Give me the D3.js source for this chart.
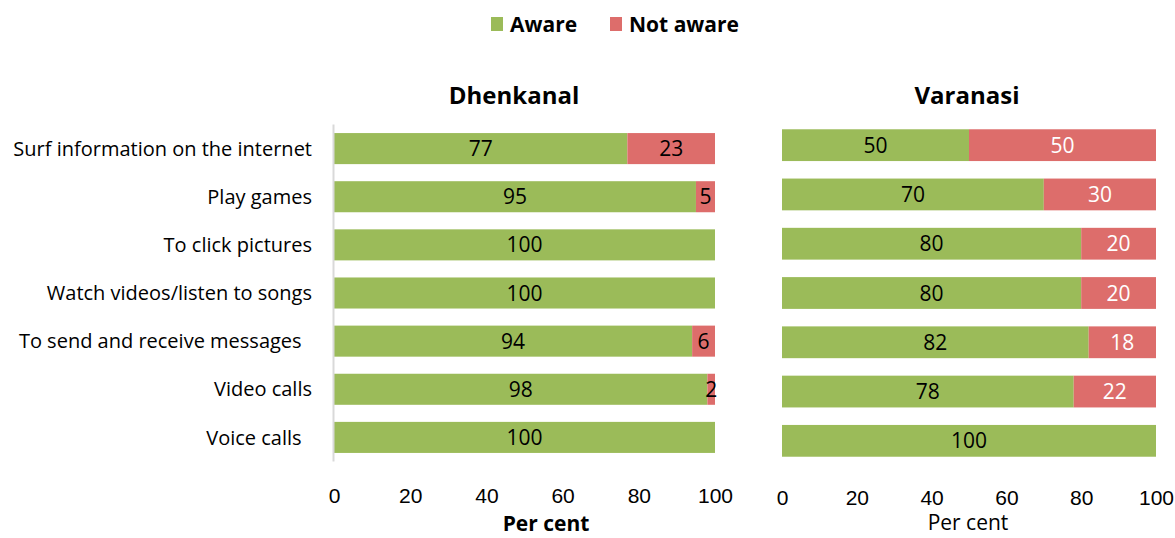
<!DOCTYPE html>
<html lang="en">
<head>
    <meta charset="UTF-8">
    <title>Awareness of mobile phone uses</title>
    <script src="https://d3js.org/d3.v7.min.js"></script>
    <style>
        body { margin: 0; background: #fff; }
        svg { font-family: "Open Sans", "Noto Sans", sans-serif; }
        .cat { font-size: 20px; fill: #000; white-space: pre; }
        .val { font-size: 21px; }
        .tick text { font-size: 21px; fill: #000; }
        .title { font-size: 24px; font-weight: bold; text-anchor: middle; }
        .legend text { font-size: 21px; font-weight: bold; }
    </style>
</head>
<body>
<svg id="chart" width="1175" height="538"></svg>
<script>
    var categories = ["Surf information on the internet", "Play games", "To click pictures",
        "Watch videos/listen to songs", "To send and receive messages  ", "Video calls", "Voice calls  "];
    var dhenkanalAware = [77, 95, 100, 100, 94, 98, 100];
    var dhenkanalNotAware = [23, 5, 0, 0, 6, 2, 0];
    var varanasiAware = [50, 70, 80, 80, 82, 78, 100];
    var varanasiNotAware = [50, 30, 20, 20, 18, 22, 0];
    var ticks = [0, 20, 40, 60, 80, 100];

    var green = "#9bbb59", red = "#dd6d6b";
    var svg = d3.select("#chart");

    // legend
    var legend = svg.append("g").attr("class", "legend");
    [["Aware", green, 491], ["Not aware", red, 610]].forEach(function(l) {
        legend.append("rect").attr("x", l[2]).attr("y", 17).attr("width", 12).attr("height", 14).attr("fill", l[1]);
        legend.append("text").attr("x", l[2] + 19).attr("y", 32).text(l[0]);
    });

    function panel(opts) {
        var x = d3.scaleLinear().domain([0, 100]).range([opts.x0, opts.x1]);
        var y = d3.scaleBand().domain(categories).range([opts.y0, opts.y1])
            .paddingInner(0.355).paddingOuter(0.178);

        svg.append("text").attr("class", "title")
            .attr("x", opts.titleX).attr("y", 104).text(opts.title);

        var rows = categories.map(function(c, i) {
            return {cat: c, aware: opts.aware[i], not: opts.not[i]};
        });

        var g = svg.append("g");
        g.selectAll(".aware").data(rows).enter().append("rect")
            .attr("x", x(0))
            .attr("y", function(d) { return y(d.cat); })
            .attr("width", function(d) { return x(d.aware) - x(0); })
            .attr("height", y.bandwidth())
            .attr("fill", green);
        g.selectAll(".not").data(rows.filter(function(d) { return d.not > 0; })).enter().append("rect")
            .attr("x", function(d) { return x(d.aware); })
            .attr("y", function(d) { return y(d.cat); })
            .attr("width", function(d) { return x(d.aware + d.not) - x(d.aware); })
            .attr("height", y.bandwidth())
            .attr("fill", red);

        g.selectAll(".va").data(rows).enter().append("text")
            .attr("class", "val")
            .attr("x", function(d) { return x(d.aware / 2); })
            .attr("y", function(d) { return y(d.cat) + y.bandwidth() / 2; })
            .attr("dy", "0.36em").attr("text-anchor", "middle")
            .text(function(d) { return d.aware; });
        g.selectAll(".vn").data(rows.filter(function(d) { return d.not > 0; })).enter().append("text")
            .attr("class", "val")
            .attr("x", function(d) { return x(d.aware + d.not / 2); })
            .attr("y", function(d) { return y(d.cat) + y.bandwidth() / 2; })
            .attr("dy", "0.36em").attr("text-anchor", "middle")
            .attr("fill", opts.notColor)
            .text(function(d) { return d.not; });

        if (opts.showCats) {
            g.selectAll(".cat").data(categories).enter().append("text")
                .attr("class", "cat")
                .attr("x", opts.x0 - 22)
                .attr("y", function(d) { return y(d) + y.bandwidth() / 2; })
                .attr("dy", "0.36em").attr("text-anchor", "end")
                .text(function(d) { return d; });
            g.append("line")
                .attr("x1", opts.x0 - 0.5).attr("x2", opts.x0 - 0.5)
                .attr("y1", opts.y0).attr("y2", opts.y1)
                .attr("stroke", "#d9d9d9").attr("stroke-width", 2);
        }

        svg.append("g")
            .attr("transform", "translate(0," + opts.axisY + ")")
            .call(d3.axisBottom(x).tickValues(ticks).tickSize(0).tickPadding(0))
            .call(function(a) { a.select(".domain").remove(); })
            .selectAll("text").attr("dy", "0.36em").attr("y", 0);

        svg.append("text")
            .attr("x", opts.labelX).attr("y", opts.labelY)
            .attr("text-anchor", "middle")
            .style("font-size", "21px")
            .style("font-weight", opts.boldLabel ? "bold" : "normal")
            .text("Per cent");
    }

    panel({title: "Dhenkanal", titleX: 514, x0: 334, x1: 715, y0: 124.5, y1: 461.5,
        aware: dhenkanalAware, not: dhenkanalNotAware, notColor: "#000",
        showCats: true, axisY: 495, labelX: 546, labelY: 531, boldLabel: true});
    panel({title: "Varanasi", titleX: 967, x0: 782, x1: 1156, y0: 120.5, y1: 465.5,
        aware: varanasiAware, not: varanasiNotAware, notColor: "#fff",
        showCats: false, axisY: 497, labelX: 968, labelY: 530, boldLabel: false});
</script>
</body>
</html>
